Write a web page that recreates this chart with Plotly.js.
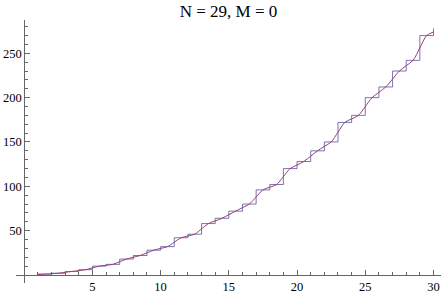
<!DOCTYPE html>
<html>
<head>
<meta charset="utf-8">
<script src="https://cdn.plot.ly/plotly-3.0.1.min.js"></script>
<style>
  html, body { margin: 0; padding: 0; background: #fff; }
  #chart { width: 443px; height: 295px; }
</style>
</head>
<body>
<div id="chart"></div>
<script>
// Step function: running total at each integer n
const stepX = [1, 2, 3, 4, 5, 6, 7, 8, 9, 10, 11, 12, 13, 14, 15,
               16, 17, 18, 19, 20, 21, 22, 23, 24, 25, 26, 27, 28, 29, 30];
const stepY = [1, 2, 4, 6, 10, 12, 18, 22, 28, 32, 42, 46, 58, 64, 72,
               80, 96, 102, 120, 128, 140, 150, 172, 180, 200, 212, 230, 242, 270, 278];

// Smooth approximation (purple curve), sampled every half unit
const curveX = [1, 1.5, 2, 2.5, 3, 3.5, 4, 4.5, 5, 5.5, 6, 6.5, 7, 7.5, 8, 8.5,
                9, 9.5, 10, 10.5, 11, 11.5, 12, 12.5, 13, 13.5, 14, 14.5, 15, 15.5,
                16, 16.5, 17, 17.5, 18, 18.5, 19, 19.5, 20, 20.5, 21, 21.5, 22, 22.5,
                23, 23.5, 24, 24.5, 25, 25.5, 26, 26.5, 27, 27.5, 28, 28.5, 29, 29.5, 30];
const curveY = [0.5, 1, 1.5, 2, 3, 4, 5, 6, 8, 10, 11, 12, 15, 18, 20, 22,
                25, 28, 30, 32, 37, 42, 44, 46, 52, 58, 61, 64, 68, 72,
                76, 80, 88, 96, 99, 102, 111, 120, 124, 128, 134, 140, 145, 150,
                161, 172, 176, 180, 190, 200, 206, 212, 221, 230, 236, 242, 256, 270, 274];

const xTicks = [5, 10, 15, 20, 25, 30];
const yTicks = [50, 100, 150, 200, 250];

const xRange = [-0.6, 30.55];
const yRange = [-9, 287.5];

const serif = 'Liberation Serif';
const axisGray = '#666666';

const traces = [
  {
    x: stepX, y: stepY,
    type: 'scatter', mode: 'lines',
    line: { shape: 'hv', color: 'rgb(61,61,153)', width: 1 },
    opacity: 0.7,
    hoverinfo: 'skip',
  },
  {
    x: curveX, y: curveY,
    type: 'scatter', mode: 'lines',
    line: { shape: 'spline', smoothing: 0.9, color: 'rgb(153,61,116)', width: 1 },
    hoverinfo: 'skip',
  },
];

// axes cross at the origin, like the original
const xPos = (0 - yRange[0]) / (yRange[1] - yRange[0]);
const yPos = (0 - xRange[0]) / (xRange[1] - xRange[0]);

const layout = {
  width: 443,
  height: 295,
  margin: { t: 20, r: 2, b: 12, l: 16 },
  paper_bgcolor: '#ffffff',
  plot_bgcolor: '#ffffff',
  showlegend: false,
  font: { family: serif, size: 12, color: '#000' },
  title: {
    text: 'N = 29, M = 0',
    font: { family: serif, size: 17, color: '#000' },
    x: 0.5, xref: 'paper', xanchor: 'center',
    y: 0.963, yref: 'container', yanchor: 'middle',
  },
  xaxis: {
    range: xRange,
    anchor: 'free',
    position: xPos,
    showline: true, linecolor: axisGray, linewidth: 1,
    showgrid: false, zeroline: false,
    tickmode: 'array', tickvals: xTicks,
    ticks: 'inside', ticklen: 5, tickcolor: axisGray, tickwidth: 1,
    tickfont: { family: serif, size: 12.5, color: '#000' },
    minor: { tickmode: 'linear', tick0: 0, dtick: 1, ticks: 'inside', ticklen: 3, tickcolor: axisGray, showgrid: false },
  },
  yaxis: {
    range: yRange,
    anchor: 'free',
    position: yPos,
    showline: true, linecolor: axisGray, linewidth: 1,
    showgrid: false, zeroline: false,
    tickmode: 'array', tickvals: yTicks,
    ticks: 'inside', ticklen: 5, tickcolor: axisGray, tickwidth: 1,
    tickfont: { family: serif, size: 12.5, color: '#000' },
    minor: { tickmode: 'linear', tick0: 0, dtick: 10, ticks: 'inside', ticklen: 3, tickcolor: axisGray, showgrid: false },
  },
};

Plotly.newPlot('chart', traces, layout, { displayModeBar: false, staticPlot: true });
</script>
</body>
</html>
